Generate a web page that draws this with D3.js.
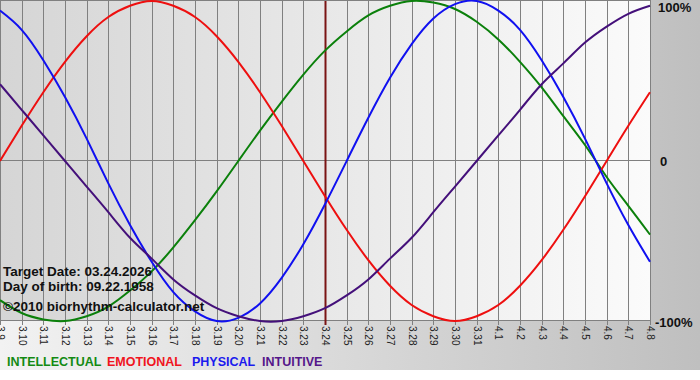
<!DOCTYPE html>
<html lang="en">
<head>
<meta charset="utf-8">
<title>Biorhythm</title>
<script src="https://d3js.org/d3.v7.min.js"></script>
<style>
  body { margin: 0; background: #fff; }
  svg text { font-family: "Liberation Sans", Arial, sans-serif; }
</style>
</head>
<body>
<div id="chart"></div>
<script>
// dates shown on the x axis (one per day)
const days = ["3.9","3.10","3.11","3.12","3.13","3.14","3.15","3.16","3.17","3.18","3.19","3.20",
  "3.21","3.22","3.23","3.24","3.25","3.26","3.27","3.28","3.29","3.30","3.31",
  "4.1","4.2","4.3","4.4","4.5","4.6","4.7","4.8"];

// curve values per day, -1 .. 1
const intellectual = [-0.87,-0.95,-0.99,-1.00,-0.97,-0.91,-0.81,-0.69,-0.54,-0.37,-0.19,0,0.19,0.37,0.54,0.69,
  0.81,0.91,0.97,1.00,0.99,0.95,0.87,0.76,0.62,0.46,0.28,0.10,-0.10,-0.28,-0.46];
const emotional = [0,0.22,0.43,0.62,0.78,0.90,0.97,1.00,0.97,0.90,0.78,0.62,0.43,0.22,0,-0.22,
  -0.43,-0.62,-0.78,-0.90,-0.97,-1.00,-0.97,-0.90,-0.78,-0.62,-0.43,-0.22,0,0.22,0.43];
const physical = [0.94,0.82,0.63,0.40,0.14,-0.14,-0.40,-0.63,-0.82,-0.94,-1.00,-0.98,-0.89,-0.73,-0.52,-0.27,
  0,0.27,0.52,0.73,0.89,0.98,1.00,0.94,0.82,0.63,0.40,0.14,-0.14,-0.40,-0.63];
const intuitive = [0.48,0.32,0.16,0,-0.16,-0.32,-0.48,-0.61,-0.74,-0.84,-0.92,-0.97,-1.00,-1.00,-0.97,-0.92,
  -0.84,-0.74,-0.61,-0.48,-0.32,-0.16,0,0.16,0.32,0.48,0.61,0.74,0.84,0.92,0.97];

const targetDay = "3.24";
const yTicks = [1, 0, -1];
const yTickLabels = ["100%", "0", "-100%"];

const series = [
  {name: "INTELLECTUAL", values: intellectual, color: "#0b800b", legend: "#138a13"},
  {name: "EMOTIONAL", values: emotional, color: "#ee0f0f", legend: "#f0141e"},
  {name: "PHYSICAL", values: physical, color: "#1010f0", legend: "#1a1aee"},
  {name: "INTUITIVE", values: intuitive, color: "#44107a", legend: "#55178a"}
];

const W = 700, H = 380;
const plot = {left: 0, right: 650, top: 1, bottom: 321};

const svg = d3.select("#chart").append("svg")
    .attr("width", W).attr("height", H);

// background gradients
const defs = svg.append("defs");
const bgGrad = defs.append("linearGradient").attr("id", "bg");
bgGrad.append("stop").attr("offset", "0%").attr("stop-color", "#f2f2f2");
bgGrad.append("stop").attr("offset", "100%").attr("stop-color", "#bfbfbf");
const plotGrad = defs.append("linearGradient").attr("id", "plotbg");
plotGrad.append("stop").attr("offset", "0%").attr("stop-color", "#d5d5d5");
plotGrad.append("stop").attr("offset", "100%").attr("stop-color", "#fbfbfb");

svg.append("rect").attr("x", 0).attr("y", 0).attr("width", W).attr("height", 370)
    .attr("fill", "url(#bg)");
svg.append("rect").attr("x", plot.left).attr("y", plot.top)
    .attr("width", plot.right - plot.left).attr("height", plot.bottom - plot.top)
    .attr("fill", "url(#plotbg)");

const x = d3.scalePoint().domain(days).range([plot.left, plot.right]);
const y = d3.scaleLinear().domain([-1, 1]).range([plot.bottom, plot.top]);

// vertical grid
svg.append("g").selectAll("line")
  .data(days)
  .join("line")
    .attr("x1", d => Math.round(x(d)) + 0.5).attr("x2", d => Math.round(x(d)) + 0.5)
    .attr("y1", plot.top).attr("y2", plot.bottom + 4)
    .attr("stroke", "#808080").attr("stroke-width", 1);

// horizontal grid
svg.append("g").selectAll("line")
  .data(yTicks)
  .join("line")
    .attr("x1", plot.left).attr("x2", plot.right + 1)
    .attr("y1", d => Math.round(y(d)) - 0.5).attr("y2", d => Math.round(y(d)) - 0.5)
    .attr("stroke", "#808080").attr("stroke-width", 1);

// current day marker
svg.append("line")
    .attr("x1", x(targetDay) + 0.5).attr("x2", x(targetDay) + 0.5)
    .attr("y1", plot.top).attr("y2", plot.bottom + 4)
    .attr("stroke", "#7a1414").attr("stroke-width", 2);

// curves
const line = d3.line()
    .x((d, i) => x(days[i]))
    .y(d => y(d))
    .curve(d3.curveNatural);

svg.append("g").selectAll("path")
  .data(series)
  .join("path")
    .attr("d", d => line(d.values))
    .attr("fill", "none")
    .attr("stroke", d => d.color)
    .attr("stroke-width", 2);

// x tick labels, rotated
svg.append("g").selectAll("text")
  .data(days)
  .join("text")
    .attr("transform", d => `translate(${x(d) + 0.5}, 326) rotate(90)`)
    .attr("dy", "0.35em")
    .attr("font-size", 10)
    .attr("fill", "#222")
    .text(d => d);

// y labels
const yLabelX = [658, 660, 655];
const yLabelY = [12, 166, 327];
svg.append("g").selectAll("text")
  .data(yTickLabels)
  .join("text")
    .attr("x", (d, i) => yLabelX[i])
    .attr("y", (d, i) => yLabelY[i])
    .attr("font-size", 13)
    .attr("font-weight", "bold")
    .attr("fill", "#111")
    .text(d => d);

// info text
const info = ["Target Date: 03.24.2026", "Day of birth: 09.22.1958"];
svg.append("g").selectAll("text")
  .data(info)
  .join("text")
    .attr("x", 3)
    .attr("y", (d, i) => 276 + i * 15)
    .attr("font-size", 13.5)
    .attr("font-weight", "bold")
    .attr("fill", "#111")
    .text(d => d);
svg.append("text")
    .attr("x", 3).attr("y", 311)
    .attr("font-size", 13.5)
    .attr("font-weight", "bold")
    .attr("fill", "#111")
    .text("\u00a92010 biorhythm-calculator.net");

// legend
const legendX = [7, 107, 192, 262];
svg.append("g").selectAll("text")
  .data(series)
  .join("text")
    .attr("x", (d, i) => legendX[i])
    .attr("y", 366)
    .attr("font-size", 12.5)
    .attr("font-weight", "bold")
    .attr("fill", d => d.legend)
    .text(d => d.name);
</script>
</body>
</html>
